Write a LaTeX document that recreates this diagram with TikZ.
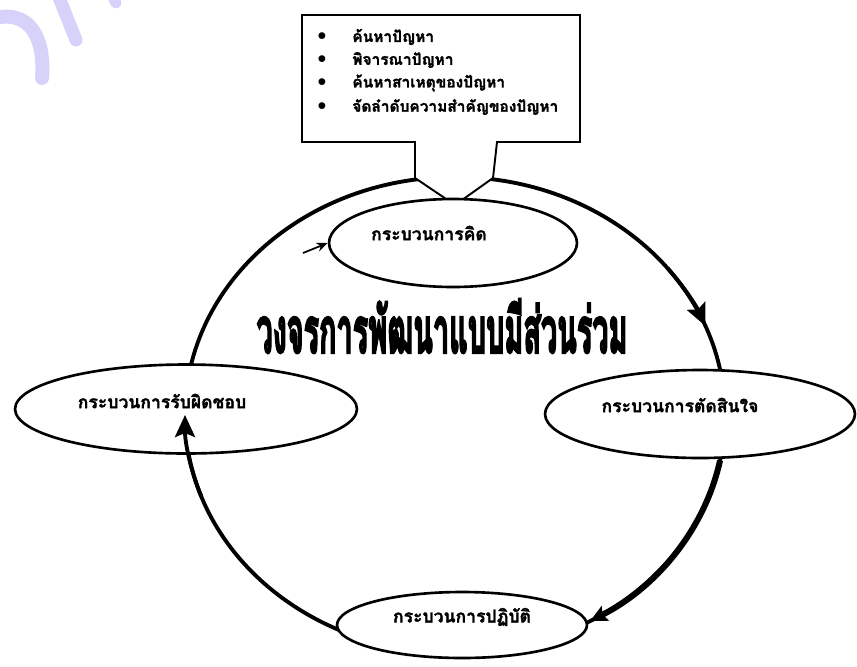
\documentclass[tikz,border=0pt]{standalone}
\usepackage{graphicx}
\usepackage{fontspec}
\newfontfamily\thaifont[Script=Thai, FakeBold=1.6]{Loma}
\newfontfamily\thaititle[Script=Thai, FakeBold=4]{Loma}
\usetikzlibrary{
  calc,
  positioning,
  arrows.meta,
  shapes.geometric
}
\tikzset{>=latex}
\definecolor{wmark}{RGB}{214,210,250}
\tikzset{
  stage/.style={ellipse, draw, line width=1.5pt, fill=white, inner sep=0pt},
  stagetext/.style={font=\thaifont\bfseries\fontsize{10}{12}\selectfont, inner sep=0pt},
  itemtext/.style={font=\thaifont\bfseries\fontsize{8.8}{11}\selectfont, anchor=west, inner sep=0pt},
  ringline/.style={line width=2.2pt},
  ringarrow/.style={line width=2.2pt, -{Stealth[length=0.44cm, width=0.4cm, inset=0.08cm]}},
  thickarrow/.style={line width=3.4pt, -{Stealth[length=0.34cm, width=0.32cm, inset=0.06cm]}},
}

\begin{document}
\begin{tikzpicture}[x=0.02cm, y=-0.02cm]
      \useasboundingbox (0,0) rectangle (857,666);

      % watermark
      \draw[wmark, line width=0.28cm, line cap=round] (-5,18) .. controls (30,10) and (45,38) .. (42,78);
      \draw[wmark, line width=0.26cm, line cap=round] (58,-5) -- (76,40);
      \draw[wmark, line width=0.22cm, line cap=round] (112,-5) -- (116,3);

      % ring
      \coordinate (ring) at (455,415);
      \draw[ringline] (ring) ellipse [x radius=270, y radius=238];

      % callout with the list
      \draw[line width=1.1pt, fill=white] (302,15) -- (580,15) -- (580,142) -- (497,142)
        -- (493,178) -- (455,205) -- (415,178) -- (415,142) -- (302,142) -- cycle;
      \node[itemtext] (find) at (352,37) {ค้นหาปัญหา};
      \node[itemtext] (consider) at (352,60) {พิจารณาปัญหา};
      \node[itemtext] (cause) at (352,83) {ค้นหาสาเหตุของปัญหา};
      \node[itemtext] (rank) at (352,107) {จัดลำดับความสำคัญของปัญหา};
      \node at (322,37) {$\bullet$};
      \node at (322,60) {$\bullet$};
      \node at (322,83) {$\bullet$};
      \node at (322,107) {$\bullet$};

      % stages
      \node[stage, minimum width=4.96cm, minimum height=1.76cm] (think) at (453,243) {};
      \node[stage, minimum width=6.2cm, minimum height=1.76cm] (decide) at (700,414) {};
      \node[stage, minimum width=5.0cm, minimum height=1.32cm] (act) at (462,625) {};
      \node[stage, minimum width=6.84cm, minimum height=1.78cm] (resp) at (186,409) {};

      \node[stagetext] (thinktext) at ($(think)+(-24,-10)$) {กระบวนการคิด};
      \node[stagetext] (decidetext) at ($(decide)+(-20,-9)$) {กระบวนการตัดสินใจ};
      \node[stagetext] (acttext) at ($(act)+(0,-8)$) {กระบวนการปฏิบัติ};
      \node[stagetext] (resptext) at ($(resp)+(-24,-8)$) {กระบวนการรับผิดชอบ};

      % arrows along the ring
      \coordinate (todecide) at ($(ring)+(322:270 and 238)$);
      \coordinate (fromdecide) at ($(ring)+(11:270 and 238)$);
      \coordinate (toresp) at ($(ring)+(160:270 and 238)$);
      \draw[ringarrow] (todecide) arc [start angle=322, end angle=338, x radius=270, y radius=238];
      \draw[thickarrow] (fromdecide) arc [start angle=11, end angle=60, x radius=270, y radius=238];
      \draw[ringarrow] (toresp) arc [start angle=160, end angle=180, x radius=270, y radius=238];

      % stray arrow at the thinking stage
      \coordinate (stray) at (303,253);
      \draw[line width=1pt, -{Stealth[length=0.22cm, width=0.18cm]}] (stray) -- (think.west);

      % title
      \node (title) at (442,326) {\resizebox{7.42cm}{1.08cm}{\thaititle\bfseries วงจรการพัฒนาแบบมีส่วนร่วม}};
\end{tikzpicture}
\end{document}
